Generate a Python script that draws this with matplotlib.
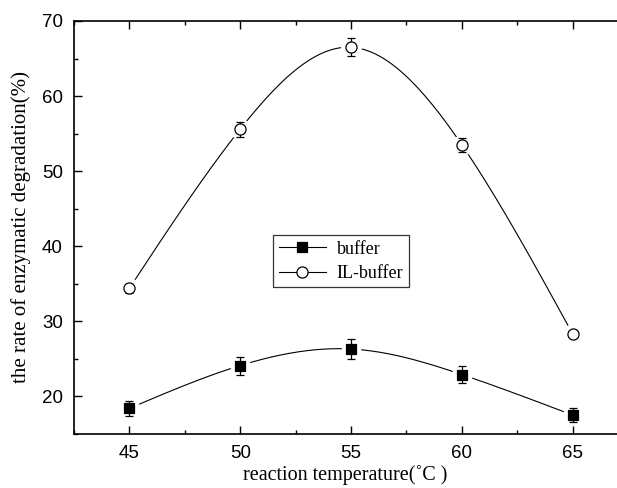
import numpy as np
import matplotlib

matplotlib.use("Agg")
import matplotlib.pyplot as plt
from matplotlib.ticker import MultipleLocator

# values
temps = [45, 50, 55, 60, 65]
buffer_vals = [18.4, 24.1, 26.3, 22.9, 17.5]
buffer_err = [1.0, 1.2, 1.3, 1.1, 0.9]
il_vals = [34.4, 55.6, 66.5, 53.5, 28.3]
il_err = [0.6, 1.0, 1.2, 0.9, 0.4]


def natural_spline(x, y, n=200):
    """Smooth connecting curve (natural cubic spline) like Origin's spline line."""
    x = np.asarray(x, float)
    y = np.asarray(y, float)
    k = len(x)
    h = np.diff(x)
    A = np.zeros((k, k))
    b = np.zeros(k)
    A[0, 0] = A[-1, -1] = 1
    for i in range(1, k - 1):
        A[i, i - 1] = h[i - 1]
        A[i, i] = 2 * (h[i - 1] + h[i])
        A[i, i + 1] = h[i]
        b[i] = 6 * ((y[i + 1] - y[i]) / h[i] - (y[i] - y[i - 1]) / h[i - 1])
    m = np.linalg.solve(A, b)
    xs = np.linspace(x[0], x[-1], n)
    idx = np.clip(np.searchsorted(x, xs) - 1, 0, k - 2)
    x0, x1 = x[idx], x[idx + 1]
    hh = x1 - x0
    t0, t1 = x1 - xs, xs - x0
    ys = (m[idx] * t0**3 / (6 * hh) + m[idx + 1] * t1**3 / (6 * hh)
          + (y[idx] / hh - m[idx] * hh / 6) * t0
          + (y[idx + 1] / hh - m[idx + 1] * hh / 6) * t1)
    return xs, ys


plt.rcParams["font.family"] = ["Liberation Serif", "DejaVu Serif"]
fig = plt.figure(figsize=(6.17, 4.88), dpi=100)
ax = fig.add_axes([0.120, 0.111, 0.88, 0.846])

for vals, err, face, ms, lab in ((buffer_vals, buffer_err, "black", 7, "buffer"),
                                  (il_vals, il_err, "white", 8, "IL-buffer")):
    mk = "s" if face == "black" else "o"
    xs, ys = natural_spline(temps, vals)
    ax.plot(xs, ys, color="black", lw=0.8, zorder=1)
    # white halo so the curve stops short of each marker
    ax.plot(temps, vals, ls="none", marker=mk, ms=ms + 6, mfc="white",
            mec="white", zorder=2)
    ax.errorbar(temps, vals, yerr=err, fmt="none", ecolor="black",
                elinewidth=0.9, capsize=3, capthick=0.9, zorder=3)
    ax.plot(temps, vals, ls="none", marker=mk, ms=ms, mfc=face,
            mec="black", mew=0.9, zorder=4)
    ax.plot([], [], color="black", lw=0.8, marker=mk, ms=ms, mfc=face,
            mec="black", mew=0.9, label=lab)

ax.set_xlim(42.5, 67)
ax.set_ylim(15, 70)
ax.xaxis.set_major_locator(MultipleLocator(5))
ax.xaxis.set_minor_locator(MultipleLocator(2.5))
ax.yaxis.set_major_locator(MultipleLocator(10))
ax.yaxis.set_minor_locator(MultipleLocator(5))
ax.tick_params(which="both", direction="in", top=True, right=False,
               width=1.0, labelsize=13.5, pad=8)
ax.tick_params(which="major", length=6)
ax.tick_params(which="minor", length=3)
for lbl in ax.get_xticklabels() + ax.get_yticklabels():
    lbl.set_fontfamily("Liberation Sans")
ax.spines["right"].set_visible(False)
for s in ("left", "bottom", "top"):
    ax.spines[s].set_linewidth(1.2)

ax.set_xlabel("reaction temperature(\u02daC )", fontsize=14.5, labelpad=2)
ax.set_ylabel("the rate of enzymatic degradation(%)", fontsize=15, labelpad=8)

leg = ax.legend(loc="upper left", bbox_to_anchor=(0.367, 0.481), fontsize=13,
                frameon=True, fancybox=False, edgecolor="black",
                handlelength=2.6, borderpad=0.3, labelspacing=0.4,
                handletextpad=0.6, borderaxespad=0)
leg.get_frame().set_linewidth(0.9)

fig.savefig("out.png", dpi=100)
